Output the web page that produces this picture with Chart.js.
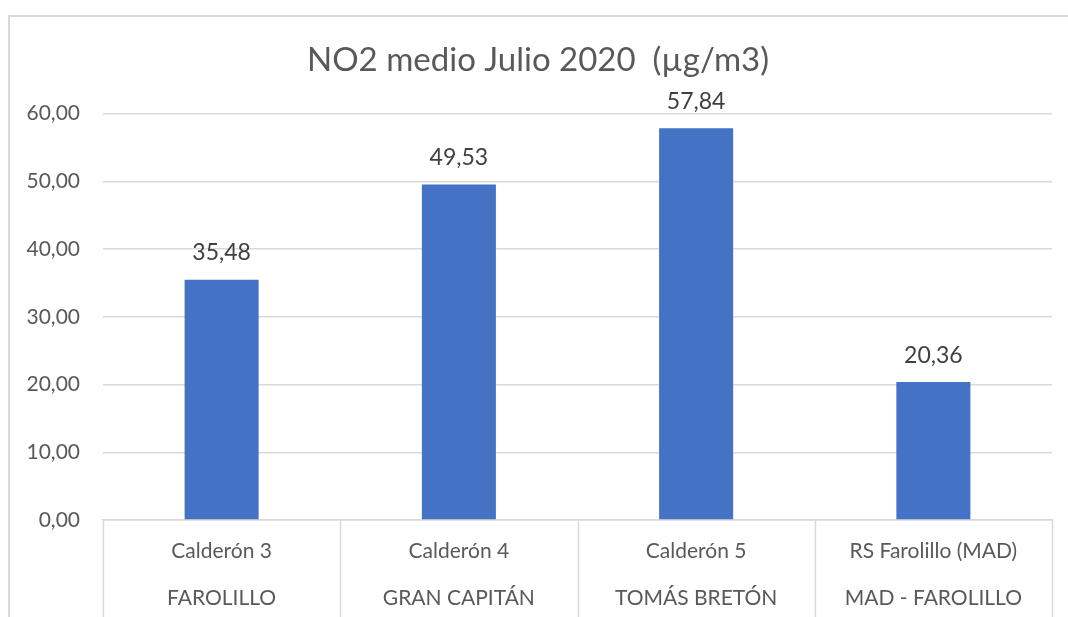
<!DOCTYPE html>
<html>
<head>
<meta charset="utf-8">
<title>NO2 medio Julio 2020</title>
<script src="https://cdn.jsdelivr.net/npm/chart.js@4.4.1/dist/chart.umd.min.js"></script>
<style>
  html, body { margin: 0; padding: 0; background: #ffffff; overflow: hidden; }
  #frame {
    position: absolute; left: 8px; top: 15px;
    width: 1200px; height: 800px;
    border: 2px solid #d9d9d9;
  }
  #wrap { position: absolute; left: 0; top: 0; width: 1068px; height: 617px; }
</style>
</head>
<body>
<div id="frame"></div>
<div id="wrap"><canvas id="chart" width="1068" height="617"></canvas></div>
<script>
//Chart data
const stations = ["Calderón 3", "Calderón 4", "Calderón 5", "RS Farolillo (MAD)"];
const places = ["FAROLILLO", "GRAN CAPITÁN", "TOMÁS BRETÓN", "MAD - FAROLILLO"];
const no2Values = [35.48, 49.53, 57.84, 20.36];
const yTicks = [0, 10, 20, 30, 40, 50, 60];

const fontName = "Lato, 'Open Sans', sans-serif";

//comma decimals like the spreadsheet
const fmt = (v) => Number(v).toFixed(2).replace(".", ",");

//two line labels for the category axis
const labels = stations.map((s, i) => [s, places[i]]);

//value labels above each bar
const valueLabels = {
  id: "valueLabels",
  afterDatasetsDraw(chart) {
    const ctx = chart.ctx;
    const meta = chart.getDatasetMeta(0);
    ctx.save();
    ctx.font = "23px " + fontName;
    ctx.fillStyle = "#404040";
    ctx.textAlign = "center";
    ctx.textBaseline = "middle";
    meta.data.forEach((bar, i) => {
      ctx.fillText(fmt(chart.data.datasets[0].data[i]), bar.x, bar.y - 27);
    });
    ctx.restore();
  }
};

//box lines between the categories under the axis
const categoryBoxes = {
  id: "categoryBoxes",
  afterDraw(chart) {
    const ctx = chart.ctx;
    const x = chart.scales.x;
    ctx.save();
    ctx.strokeStyle = "#d9d9d9";
    ctx.lineWidth = 1.5;
    for (let i = 0; i <= labels.length; i++) {
      const px = Math.round(x.getPixelForValue(i - 0.5)) + 0.5;
      ctx.beginPath();
      ctx.moveTo(px, chart.chartArea.bottom);
      ctx.lineTo(px, chart.height);
      ctx.stroke();
    }
    ctx.restore();
  }
};

const myChart = new Chart(document.getElementById("chart"), {
  type: "bar",
  plugins: [valueLabels, categoryBoxes],
  data: {
    labels: labels,
    datasets: [{
      data: no2Values,
      backgroundColor: "#4472c4",
      barPercentage: 0.312,
      categoryPercentage: 1
    }]
  },
  options: {
    responsive: false,
    animation: false,
    layout: { padding: { left: 24, right: 16, top: 0, bottom: 0 } },
    plugins: {
      legend: { display: false },
      tooltip: { enabled: false },
      title: {
        display: true,
        text: "NO2 medio Julio 2020  (µg/m3)",
        color: "#595959",
        font: { family: fontName, size: 33, weight: "normal", lineHeight: 1.2 },
        padding: { top: 41, bottom: 33 }
      }
    },
    scales: {
      x: {
        grid: { display: false },
        border: { display: true, color: "#d9d9d9", width: 1.5 },
        ticks: {
          color: "#595959",
          autoSkip: false,
          maxRotation: 0,
          padding: -1,
          font: { family: fontName, size: 21, lineHeight: "47.5px" }
        },
        afterFit(scale) { scale.height = 97; }
      },
      y: {
        min: 0,
        max: 60,
        afterBuildTicks(scale) { scale.ticks = yTicks.map(v => ({ value: v })); },
        grid: { color: "#d9d9d9", lineWidth: 1.5, drawTicks: false },
        border: { display: false },
        ticks: {
          color: "#595959",
          padding: 23,
          font: { family: fontName, size: 21 },
          callback: (v) => fmt(v)
        },
        afterFit(scale) { scale.width = 79; }
      }
    }
  }
});
</script>
</body>
</html>
